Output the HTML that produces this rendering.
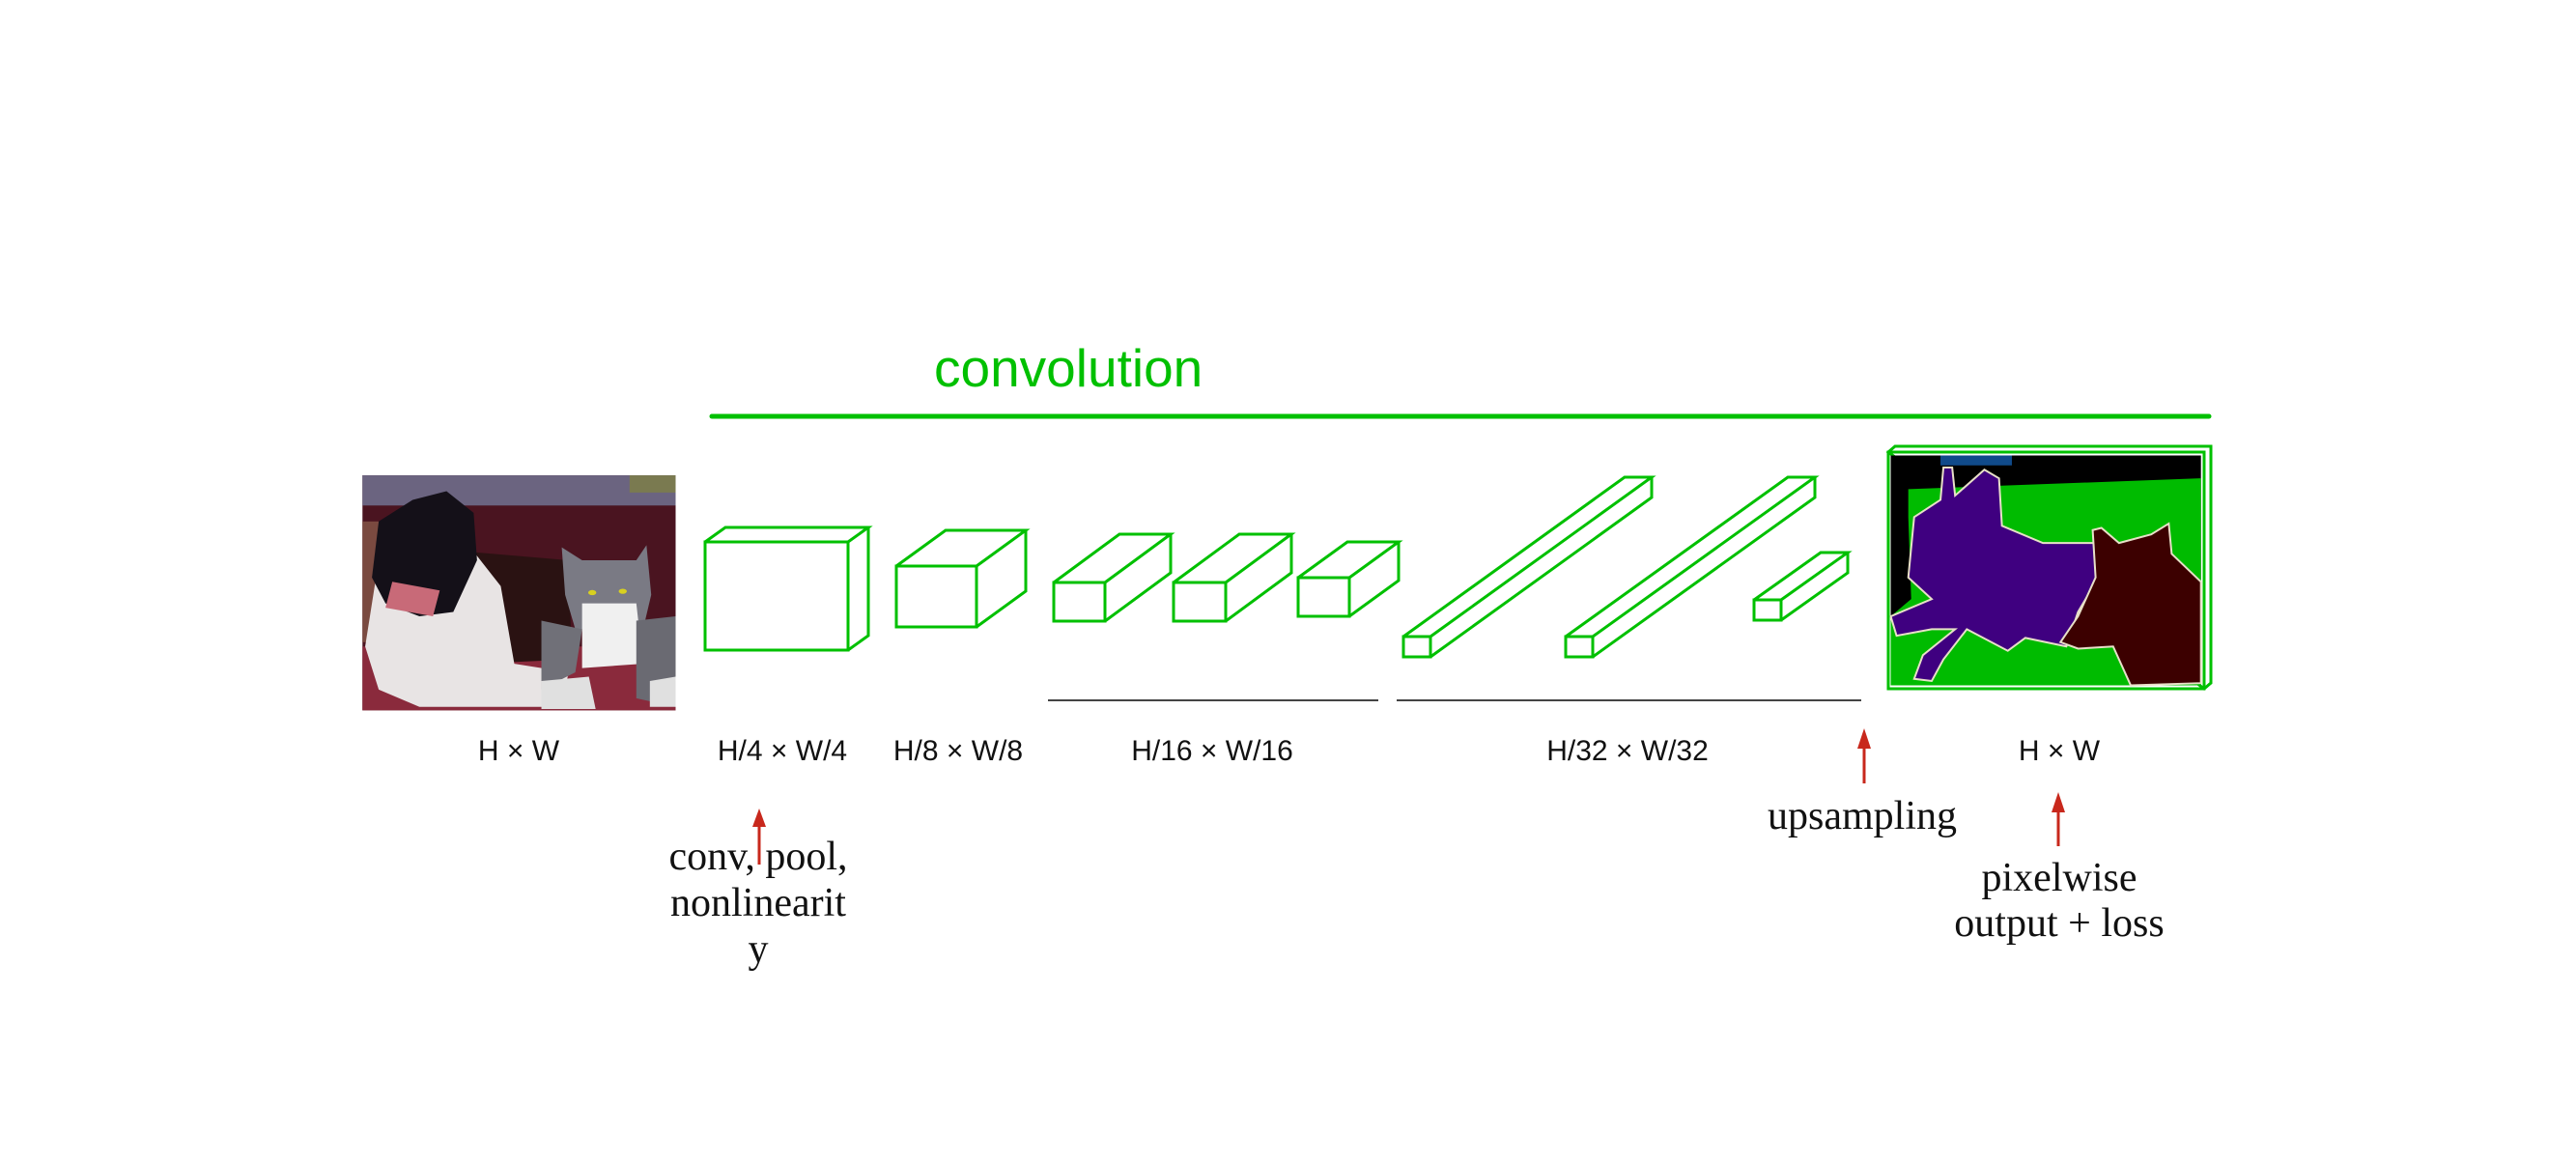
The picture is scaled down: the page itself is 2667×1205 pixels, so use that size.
<!DOCTYPE html>
<html><head><meta charset="utf-8"><style>
html,body{margin:0;padding:0;background:#fff;}
svg{display:block;}
.s{font-family:"Liberation Sans",Arial,sans-serif;font-size:30px;fill:#111;text-anchor:middle;}
.r{font-family:"Liberation Serif","Times New Roman",serif;font-size:42px;fill:#111;text-anchor:middle;}
</style></head><body>
<svg width="2667" height="1205" viewBox="0 0 2667 1205" xmlns="http://www.w3.org/2000/svg">
<rect width="2667" height="1205" fill="#fff"/>
<text x="967" y="400" style="font-family:'Liberation Sans',Arial,sans-serif;font-size:55px;fill:#00c000;">convolution</text>
<line x1="737" y1="431" x2="2287" y2="431" stroke="#00c000" stroke-width="5" stroke-linecap="round"/>

<!-- photo -->
<g transform="translate(350,330) scale(0.7018,0.4464)">
<rect x="36" y="363" width="462" height="545" fill="#4a1420"/>
<rect x="36" y="363" width="462" height="70" fill="#6b6480"/>
<rect x="430" y="363" width="68" height="40" fill="#7a7a50"/>
<rect x="36" y="760" width="462" height="148" fill="#8a2a3c"/>
<rect x="36" y="470" width="30" height="280" fill="#7a4a40"/>
<path d="M190,540 L340,560 L345,790 L200,800 Z" fill="#2a1212"/>
<path d="M60,560 L200,540 L240,620 L260,800 L340,820 L330,900 L120,900 L60,860 L40,760 Z" fill="#e8e4e4"/>
<path d="M60,470 L110,420 L160,400 L200,450 L205,560 L170,680 L120,690 L70,660 L50,600 Z" fill="#141018"/>
<path d="M80,610 L150,630 L140,690 L70,670 Z" fill="#c86a78"/>
<path d="M330,530 L360,560 L440,560 L455,525 L462,640 L450,720 L350,720 L335,640 Z" fill="#7a7a84"/>
<path d="M360,660 L440,660 L450,800 L360,810 Z" fill="#f0f0f0"/>
<path d="M300,700 L360,720 L350,820 L300,860 Z" fill="#707078"/>
<path d="M440,700 L498,690 L498,900 L440,880 Z" fill="#6a6a72"/>
<path d="M300,840 L370,830 L380,905 L300,905 Z" fill="#e0e0e0"/>
<path d="M460,840 L498,830 L498,900 L460,900 Z" fill="#e0e0e0"/>
<circle cx="375" cy="635" r="6" fill="#d8d020"/><circle cx="420" cy="632" r="6" fill="#d8d020"/>
</g>

<!-- cubes -->
<g fill="none" stroke="#00c000" stroke-width="3" stroke-linejoin="miter">
<path d="M730,561 H878 V673 H730 Z M730,561 L751,546 H899 L878,561 M899,546 V658 L878,673"/>
<path d="M928,586 H1011 V649 H928 Z M928,586 L979,549 H1062 L1011,586 M1062,549 V612 L1011,649"/>
<path d="M1091,603 H1144 V643 H1091 Z M1091,603 L1159,553 H1212 L1144,603 M1212,553 V593 L1144,643"/>
<path d="M1215,603 H1269 V643 H1215 Z M1215,603 L1283,553 H1337 L1269,603 M1337,553 V593 L1269,643"/>
<path d="M1344,598 H1397 V638 H1344 Z M1344,598 L1395,561 H1448 L1397,598 M1448,561 V601 L1397,638"/>
<path d="M1453,659 H1481 V680 H1453 Z M1453,659 L1682,494 H1710 L1481,659 M1710,494 V515 L1481,680"/>
<path d="M1621,659 H1649 V680 H1621 Z M1621,659 L1851,494 H1879 L1649,659 M1879,494 V515 L1649,680"/>
<path d="M1816,621 H1844 V642 H1816 Z M1816,621 L1885,572 H1913 L1844,621 M1913,572 V593 L1844,642"/>
</g>

<!-- segmentation -->
<path d="M1955,468 L1962,462 H2289 V707 L2282,713 Z" fill="#fff" stroke="#00c000" stroke-width="3"/>
<g transform="translate(1400,330) scale(0.606,0.4464)">
<rect x="920" y="317" width="530" height="533" fill="#000"/>
<path d="M950,395 L1450,370 L1450,850 L920,850 L920,690 L955,650 L950,460 Z" fill="#00bb00"/>
<rect x="1005" y="317" width="122" height="23" fill="#104a8a"/>
<path d="M1010,345 L1025,345 L1030,410 L1080,350 L1105,370 L1110,480 L1180,520 L1270,520 L1275,600 L1240,680 L1220,760 L1150,740 L1120,770 L1050,720 L1010,790 L990,840 L960,835 L975,780 L1030,720 L990,720 L930,735 L920,690 L990,650 L950,600 L960,460 L1005,420 Z" fill="#3f0080" stroke="#e8e0c8" stroke-width="2" vector-effect="non-scaling-stroke"/>
<path d="M1265,490 L1280,485 L1310,520 L1365,500 L1395,475 L1400,545 L1450,610 L1450,845 L1330,850 L1300,760 L1240,765 L1210,750 L1240,690 L1270,600 Z" fill="#3c0000" stroke="#e8e0c8" stroke-width="2" vector-effect="non-scaling-stroke"/>
</g>
<path d="M1955,468 H2282 V713 H1955 Z" fill="none" stroke="#00c000" stroke-width="3"/>

<!-- black lines -->
<line x1="1085" y1="725" x2="1427" y2="725" stroke="#444" stroke-width="2"/>
<line x1="1446" y1="725" x2="1927" y2="725" stroke="#444" stroke-width="2"/>

<!-- labels -->
<text class="s" x="537" y="787">H × W</text>
<text class="s" x="810" y="787">H/4 × W/4</text>
<text class="s" x="992" y="787">H/8 × W/8</text>
<text class="s" x="1255" y="787">H/16 × W/16</text>
<text class="s" x="1685" y="787">H/32 × W/32</text>
<text class="s" x="2132" y="787">H × W</text>

<!-- arrows -->
<g fill="#c8281c" stroke="#c8281c">
<line x1="786" y1="852" x2="786" y2="895" stroke-width="3"/><path d="M779,856 L786,837 L793,856 Z" stroke="none"/>
<line x1="1930" y1="772" x2="1930" y2="811" stroke-width="3"/><path d="M1923,775 L1930,754 L1937,775 Z" stroke="none"/>
<line x1="2131" y1="838" x2="2131" y2="876" stroke-width="3"/><path d="M2124,841 L2131,820 L2138,841 Z" stroke="none"/>
</g>

<text class="r" x="785" y="900">conv, pool,</text>
<text class="r" x="785" y="948">nonlinearit</text>
<text class="r" x="785" y="996">y</text>
<text class="r" x="1928" y="858">upsampling</text>
<text class="r" x="2132" y="922">pixelwise</text>
<text class="r" x="2132" y="969">output + loss</text>
</svg>
</body></html>
